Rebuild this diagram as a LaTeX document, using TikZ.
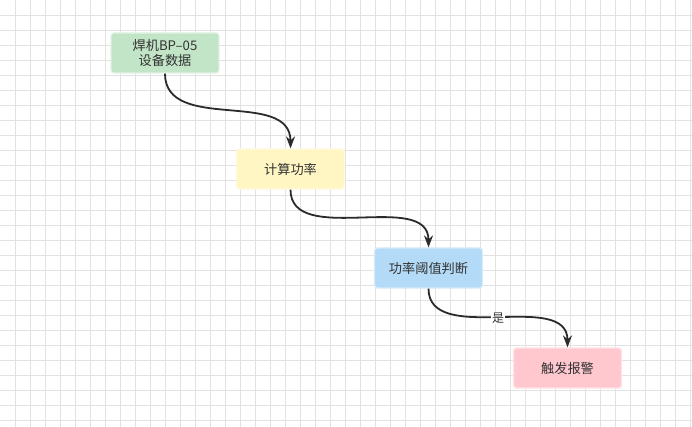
\documentclass[tikz,border=0pt]{standalone}
\usepackage{fontspec}
\setmainfont{Noto Sans CJK SC}
\usetikzlibrary{arrows.meta}
\definecolor{gridc}{HTML}{E2E2E2}
\definecolor{txt}{HTML}{333333}
\definecolor{gfill}{HTML}{C3E5C7}
\definecolor{yfill}{HTML}{FFF6C4}
\definecolor{bfill}{HTML}{B3DAF6}
\definecolor{pfill}{HTML}{FFC7CE}
\definecolor{edgec}{HTML}{2B2B2B}
\tikzset{
  box/.style={rounded corners=3pt, minimum width=108pt, minimum height=40pt, inner sep=0pt, align=center,
    font=\fontsize{13.2pt}{15.5pt}\selectfont, text=txt, line width=1.2pt},
  flow/.style={draw=edgec, line width=1.8pt, -{Stealth[length=12pt,width=9pt]}},
  lbl/.style={fill=white, inner sep=1pt, font=\fontsize{12pt}{13pt}\selectfont, text=txt}
}
\begin{document}
\begin{tikzpicture}[x=1pt,y=-1pt]
\useasboundingbox (0,0) rectangle (692,427);
\fill[white] (0,0) rectangle (692,427);
\foreach \i in {15,30,...,690} \draw[gridc, line width=0.8pt] (\i,0) -- (\i,427);
\foreach \j in {15,30,...,425} \draw[gridc, line width=0.8pt] (0,\j) -- (692,\j);
\node[box, fill=gfill, draw=gfill!50!white] (a) at (165,53) {焊机BP–05\\设备数据};
\node[box, fill=yfill, draw=yfill!50!white] (b) at (290.5,169) {计算功率};
\node[box, fill=bfill, draw=bfill!50!white] (c) at (428.5,268) {功率阈值判断};
\node[box, fill=pfill, draw=pfill!50!white] (d) at (567.5,368) {触发报警};
\draw[flow] (a.south) .. controls +(0,60) and +(0,-60) .. (b.north);
\draw[flow] (b.south) .. controls +(0,58) and +(0,-58) .. (c.north);
\draw[flow] (c.south) .. controls +(0,58) and +(0,-58) .. (d.north) node[pos=0.5, lbl] (l) {是};
\end{tikzpicture}
\end{document}
